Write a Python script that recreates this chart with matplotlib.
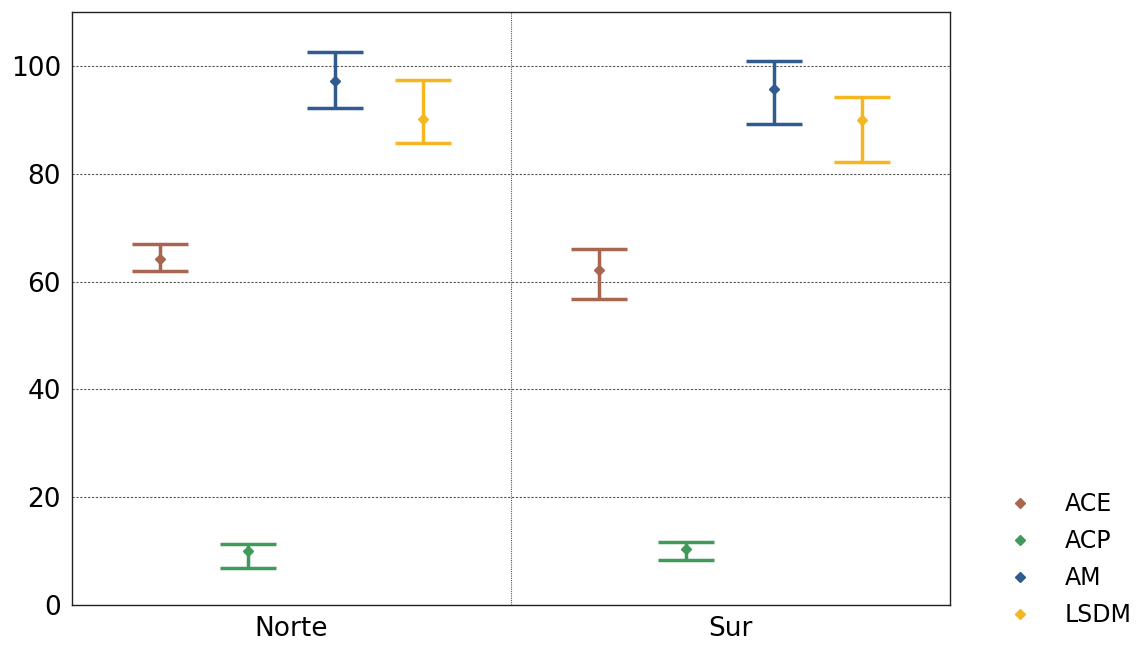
import numpy as np
import matplotlib.pyplot as plt
from matplotlib.lines import Line2D

regions = ["Norte", "Sur"]
series = ["ACE", "ACP", "AM", "LSDM"]
colors = ["#a8654f", "#3f9a5b", "#2f5b8f", "#f4b71f"]

# mean, lower limit, upper limit per region
means = {
    "ACE": [64.2, 62.2],
    "ACP": [10.0, 10.4],
    "AM": [97.2, 95.7],
    "LSDM": [90.2, 90.0],
}
lower = {
    "ACE": [62.0, 56.8],
    "ACP": [6.9, 8.3],
    "AM": [92.2, 89.2],
    "LSDM": [85.7, 82.2],
}
upper = {
    "ACE": [67.0, 66.0],
    "ACP": [11.3, 11.7],
    "AM": [102.6, 100.9],
    "LSDM": [97.4, 94.2],
}

fig = plt.figure(figsize=(11.44, 6.45), dpi=100)
ax = fig.add_axes([0.063, 0.062, 0.767, 0.919])

x = np.arange(len(regions))
offsets = [-0.3, -0.1, 0.1, 0.3]
for name, col, off in zip(series, colors, offsets):
    m = np.array(means[name])
    lo = m - np.array(lower[name])
    hi = np.array(upper[name]) - m
    ax.errorbar(x + off, m, yerr=[lo, hi], fmt="D", color=col, ms=5,
                elinewidth=2.5, capsize=20, capthick=2.5)

ax.set_xlim(-0.5, 1.5)
ax.set_ylim(0, 110)
ax.set_yticks([0, 20, 40, 60, 80, 100])
ax.set_xticks(x)
ax.set_xticklabels(regions)
ax.tick_params(length=0, labelsize=19, pad=8)
ax.set_axisbelow(True)
ax.grid(axis="y", color="#555555", linestyle=(0, (2, 1.5)), linewidth=0.8)
ax.axvline(0.5, color="#555555", linestyle=(0, (1, 1)), linewidth=0.8, zorder=0)
for s in ax.spines.values():
    s.set_color("#222222")
    s.set_linewidth(1.0)

handles = [Line2D([], [], marker="D", color=c, linestyle="none", ms=5) for c in colors]
fig.legend(handles, series, loc="lower left", bbox_to_anchor=(0.865, -0.005),
           frameon=False, fontsize=17, handlelength=0.8, handletextpad=1.5,
           labelspacing=0.55)

fig.savefig("out.png", dpi=100)
